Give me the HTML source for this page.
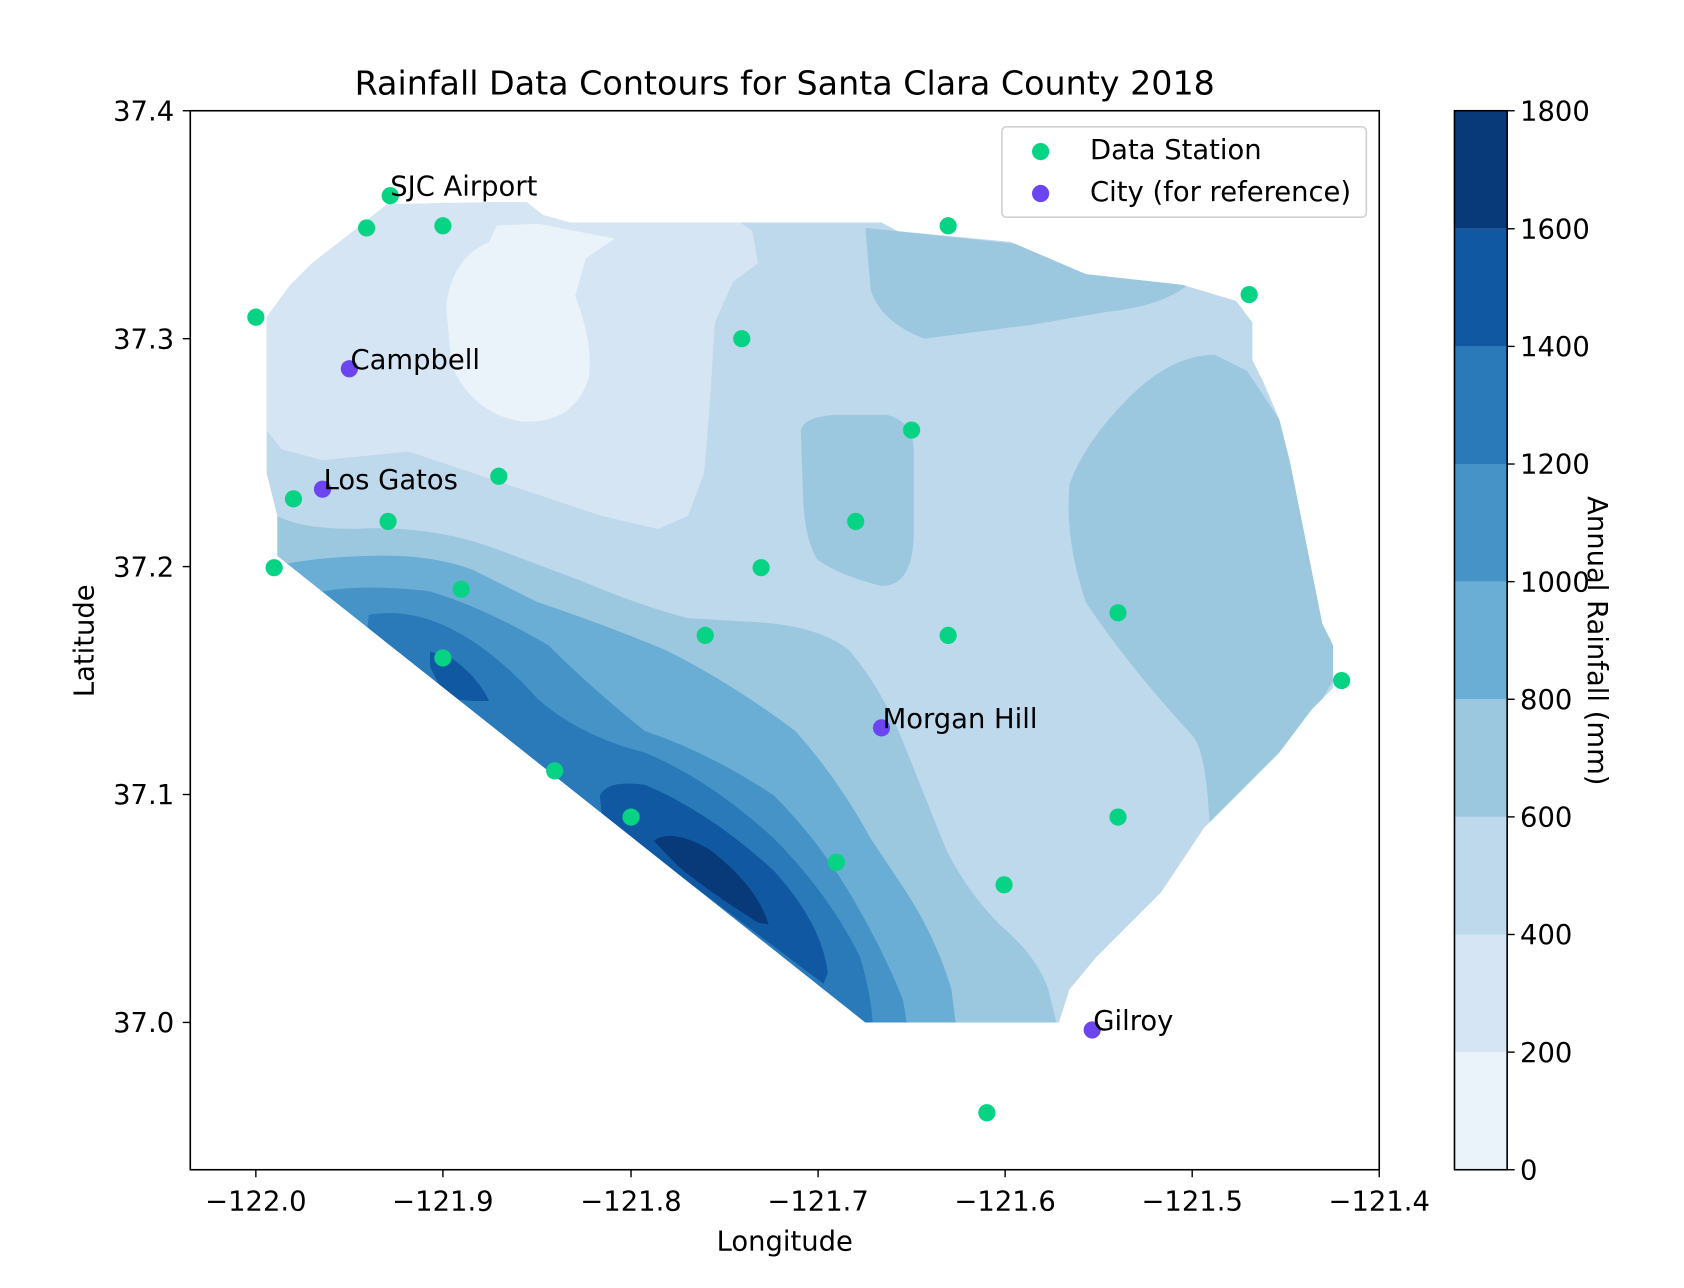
<!DOCTYPE html>
<html><head><meta charset="utf-8"><style>html,body{margin:0;padding:0;background:#fff}svg{display:block}</style></head>
<body>
<svg width="1684" height="1288" viewBox="0 0 1566.5 1198" preserveAspectRatio="none" xmlns="http://www.w3.org/2000/svg" font-family="DejaVu Sans, Liberation Sans, sans-serif">
<defs><clipPath id="dom"><polygon points="270,265 290,245 335,210 360,190 460,188 490,188 505,200 530,207 820,207 835,215 940,225 975,240 1010,255 1100,265 1150,280 1165,300 1165,335 1175,355 1190,390 1200,430 1210,480 1220,530 1230,580 1240,600 1240,640 1220,660 1190,700 1150,740 1120,770 1100,800 1080,830 1060,850 1040,870 1020,890 995,920 985,951 805,951 258,517 258,480 248,440 248,295"/></clipPath></defs>
<g clip-path="url(#dom)">
<rect x="240" y="180" width="1010" height="780" fill="#bed8ec"/>
<path d="M240,180 L650,180 L700,215 L705,245 L682,262 L665,300 L660,380 L655,440 L640,480 L612,492 L560,480 L500,460 L440,440 L380,420 L300,428 L262,418 L240,390 Z" fill="#d6e5f4"/>
<path d="M415,285 Q420,240 455,225 L462,210 L500,208 L572,222 L545,240 L535,275 Q552,320 548,350 Q535,395 485,392 Q440,385 420,340 Z" fill="#eaf2fa"/>
<path d="M805,212 L975,230 L1010,252 L1105,265 Q1080,285 1030,290 L960,302 L860,315 Q820,300 810,270 Z" fill="#9bc7df"/>
<path d="M745,400 Q748,388 775,386 L825,386 Q850,392 850,420 L850,500 Q848,545 820,545 Q780,535 760,520 Q748,500 747,460 Z" fill="#9bc7df"/>
<path d="M1130,330 L1160,345 L1190,390 L1260,600 L1200,700 L1125,765 Q1122,700 1110,685 Q1050,620 1010,560 Q990,500 995,450 Q1010,410 1050,370 Q1090,330 1130,330 Z" fill="#9bc7df"/>
<path d="M240,470 L258,480 Q280,492 330,492 Q400,488 460,510 L540,540 Q600,565 640,575 L690,578 Q760,580 790,605 Q820,640 840,690 L860,740 L880,790 Q900,830 930,860 Q965,890 975,920 L985,960 L240,960 Z" fill="#9bc7df"/>
<path d="M240,518 L268,524 Q300,518 345,517 Q400,515 440,530 L500,560 Q560,580 620,605 Q680,635 740,680 Q780,725 810,780 L840,825 Q870,870 885,920 L890,960 L240,960 Z" fill="#6aaed6"/>
<path d="M300,550 Q340,543 400,550 Q450,565 510,600 Q550,640 600,680 Q660,700 720,740 Q760,780 790,830 Q820,880 840,930 L845,960 L240,960 Z" fill="#4694c7"/>
<path d="M343,572 Q380,565 420,585 Q460,605 500,650 Q540,685 600,700 Q660,725 720,780 Q770,830 800,890 Q812,930 812,960 L300,960 Z" fill="#2a7ab9"/>
<path d="M400,606 L420,612 Q445,630 455,652 L440,652 L415,650 L400,620 Z" fill="#1059a2"/>
<path d="M558,740 Q565,725 600,730 Q660,755 720,810 Q765,860 770,905 L766,915 L560,760 Z" fill="#1059a2"/>
<path d="M608,782 Q625,770 660,790 Q705,825 715,860 L705,858 Q660,830 630,805 Z" fill="#083a7a"/>
</g>
<rect x="177" y="103" width="1106" height="985" fill="none" stroke="#000" stroke-width="1.5"/>
<g stroke="#000" stroke-width="1.3">
<line x1="170" y1="103" x2="177" y2="103"/><line x1="170" y1="315" x2="177" y2="315"/><line x1="170" y1="527" x2="177" y2="527"/><line x1="170" y1="739" x2="177" y2="739"/><line x1="170" y1="951" x2="177" y2="951"/>
<line x1="238" y1="1088" x2="238" y2="1095"/><line x1="412" y1="1088" x2="412" y2="1095"/><line x1="587" y1="1088" x2="587" y2="1095"/><line x1="761" y1="1088" x2="761" y2="1095"/><line x1="935" y1="1088" x2="935" y2="1095"/><line x1="1109" y1="1088" x2="1109" y2="1095"/><line x1="1283" y1="1088" x2="1283" y2="1095"/>
</g>
<g font-size="25.5" text-anchor="end">
<text x="162" y="112">37.4</text><text x="162" y="324">37.3</text><text x="162" y="536">37.2</text><text x="162" y="748">37.1</text><text x="162" y="960">37.0</text>
</g>
<g font-size="25.5" text-anchor="middle">
<text x="238" y="1126">−122.0</text><text x="412" y="1126">−121.9</text><text x="587" y="1126">−121.8</text><text x="761" y="1126">−121.7</text><text x="935" y="1126">−121.6</text><text x="1109" y="1126">−121.5</text><text x="1283" y="1126">−121.4</text>
</g>
<text x="730" y="1163" font-size="25.5" text-anchor="middle">Longitude</text>
<text transform="translate(87,596) rotate(-90)" font-size="25.5" text-anchor="middle">Latitude</text>
<text x="730" y="88" font-size="31" text-anchor="middle">Rainfall Data Contours for Santa Clara County 2018</text>
<g fill="#06d384">
<circle cx="363" cy="182" r="8"/><circle cx="341" cy="212" r="8"/><circle cx="412" cy="210" r="8"/><circle cx="238" cy="295" r="8"/><circle cx="690" cy="315" r="8"/><circle cx="882" cy="210" r="8"/><circle cx="1162" cy="274" r="8"/><circle cx="848" cy="400" r="8"/><circle cx="464" cy="443" r="8"/><circle cx="273" cy="464" r="8"/><circle cx="361" cy="485" r="8"/><circle cx="796" cy="485" r="8"/><circle cx="255" cy="528" r="8"/><circle cx="429" cy="548" r="8"/><circle cx="708" cy="528" r="8"/><circle cx="656" cy="591" r="8"/><circle cx="882" cy="591" r="8"/><circle cx="412" cy="612" r="8"/><circle cx="1040" cy="570" r="8"/><circle cx="1248" cy="633" r="8"/><circle cx="516" cy="717" r="8"/><circle cx="587" cy="760" r="8"/><circle cx="1040" cy="760" r="8"/><circle cx="778" cy="802" r="8"/><circle cx="934" cy="823" r="8"/><circle cx="918" cy="1035" r="8"/>
</g>
<g fill="#6c45f0">
<circle cx="325" cy="343" r="8"/><circle cx="300" cy="455" r="8"/><circle cx="820" cy="677" r="8"/><circle cx="1016" cy="958" r="8"/>
</g>
<g font-size="25.5">
<text x="363" y="182">SJC Airport</text><text x="326" y="343">Campbell</text><text x="301" y="455">Los Gatos</text><text x="821" y="677">Morgan Hill</text><text x="1017" y="958">Gilroy</text>
</g>
<rect x="932" y="118" width="339" height="84" rx="4" fill="#fff" fill-opacity="0.85" stroke="#d0d0d0" stroke-width="1.5"/>
<circle cx="968" cy="141" r="8" fill="#06d384"/><circle cx="968" cy="180" r="8" fill="#6c45f0"/>
<text x="1014" y="148" font-size="25.5">Data Station</text><text x="1014" y="187" font-size="25.5">City (for reference)</text>
<g>
<rect x="1353" y="978.6" width="49" height="109.4" fill="#eaf2fa"/>
<rect x="1353" y="869.2" width="49" height="109.4" fill="#d6e5f4"/>
<rect x="1353" y="759.8" width="49" height="109.4" fill="#bed8ec"/>
<rect x="1353" y="650.4" width="49" height="109.4" fill="#9bc7df"/>
<rect x="1353" y="541" width="49" height="109.4" fill="#6aaed6"/>
<rect x="1353" y="431.6" width="49" height="109.4" fill="#4694c7"/>
<rect x="1353" y="322.2" width="49" height="109.4" fill="#2a7ab9"/>
<rect x="1353" y="212.8" width="49" height="109.4" fill="#1059a2"/>
<rect x="1353" y="103" width="49" height="109.8" fill="#083a7a"/>
<rect x="1353" y="103" width="49" height="985" fill="none" stroke="#000" stroke-width="1.5"/>
</g>
<g stroke="#000" stroke-width="1.3">
<line x1="1402" y1="1088" x2="1409" y2="1088"/><line x1="1402" y1="978.6" x2="1409" y2="978.6"/><line x1="1402" y1="869.2" x2="1409" y2="869.2"/><line x1="1402" y1="759.8" x2="1409" y2="759.8"/><line x1="1402" y1="650.4" x2="1409" y2="650.4"/><line x1="1402" y1="541" x2="1409" y2="541"/><line x1="1402" y1="431.6" x2="1409" y2="431.6"/><line x1="1402" y1="322.2" x2="1409" y2="322.2"/><line x1="1402" y1="212.8" x2="1409" y2="212.8"/><line x1="1402" y1="103" x2="1409" y2="103"/>
</g>
<g font-size="25.5">
<text x="1414" y="1097">0</text><text x="1414" y="987.6">200</text><text x="1414" y="878.2">400</text><text x="1414" y="768.8">600</text><text x="1414" y="659.4">800</text><text x="1414" y="550">1000</text><text x="1414" y="440.6">1200</text><text x="1414" y="331.2">1400</text><text x="1414" y="221.8">1600</text><text x="1414" y="112">1800</text>
</g>
<text transform="translate(1477,596) rotate(90)" font-size="25.5" text-anchor="middle">Annual Rainfall (mm)</text>
</svg>
</body></html>
